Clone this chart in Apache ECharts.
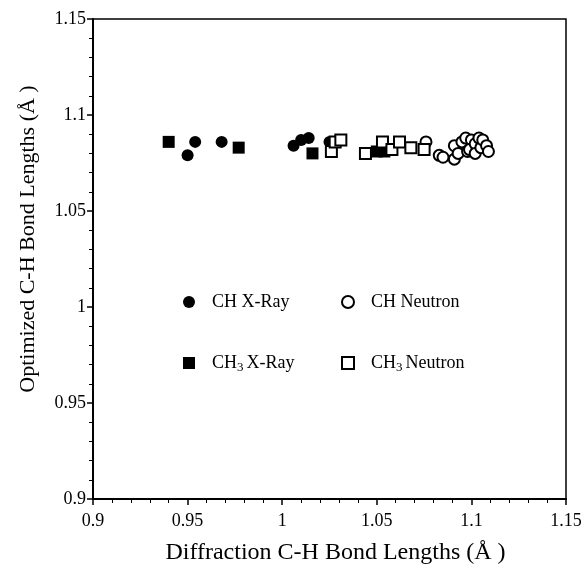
<!DOCTYPE html>
<html>
<head>
<meta charset="utf-8">
<script src="https://cdn.jsdelivr.net/npm/echarts@6/dist/echarts.min.js"></script>
<style>
  html, body { margin: 0; padding: 0; background: #fff; }
  #main { width: 584px; height: 565px; }
</style>
</head>
<body>
<div id="main"></div>
<script>
// values: [diffraction, optimized]
var chXray = [
  [0.950, 1.079], [0.954, 1.086], [0.968, 1.086],
  [1.006, 1.084], [1.010, 1.087], [1.014, 1.088], [1.025, 1.086]
];
var ch3Xray = [
  [0.940, 1.086], [0.977, 1.083], [1.016, 1.080],
  [1.050, 1.081], [1.054, 1.081]
];
var chNeutron = [
  [1.076, 1.086], [1.083, 1.079], [1.085, 1.078],
  [1.091, 1.084], [1.091, 1.077], [1.093, 1.080], [1.095, 1.086],
  [1.097, 1.088], [1.098, 1.081], [1.100, 1.087], [1.099, 1.082],
  [1.102, 1.085], [1.102, 1.080], [1.104, 1.088], [1.105, 1.083],
  [1.106, 1.087], [1.108, 1.084], [1.109, 1.081]
];
var ch3Neutron = [
  [1.026, 1.081], [1.028, 1.086], [1.031, 1.087], [1.044, 1.080],
  [1.053, 1.086], [1.058, 1.082], [1.062, 1.086], [1.068, 1.083],
  [1.075, 1.082]
];
var xTicks = { min: 0.9, max: 1.15, step: 0.05 };
var yTicks = { min: 0.9, max: 1.15, step: 0.05 };

var font = 'Liberation Serif';
var myChart = echarts.init(document.getElementById('main'));

function legendName(name) {
  return name.replace('CH3 ', 'CH{sub|3}');
}
var legendText = {
  fontFamily: font,
  fontSize: 18,
  color: '#000',
  lineHeight: 22,
  padding: [0, 0, 0, 12],
  rich: {
    sub: { fontFamily: font, fontSize: 13, verticalAlign: 'bottom', padding: [9, 3, 0, 0], color: '#000' }
  }
};

function scatter(name, data, symbol, filled) {
  return {
    name: name,
    type: 'scatter',
    data: data,
    symbol: symbol,
    symbolSize: filled ? 12 : 11,
    itemStyle: filled
      ? { color: '#000', opacity: 1 }
      : { color: '#fff', borderColor: '#000', borderWidth: 2, opacity: 1 }
  };
}

var option = {
  animation: false,
  backgroundColor: '#fff',
  grid: {
    left: 93, top: 19, right: 18, bottom: 66,
    outerBoundsMode: 'none',
    show: true, borderColor: '#000', borderWidth: 1.5
  },
  legend: [
    {
      orient: 'vertical', left: 178, top: 286,
      itemWidth: 12, itemHeight: 12, itemGap: 39,
      data: ['CH X-Ray', 'CH3 X-Ray'],
      formatter: legendName, textStyle: legendText
    },
    {
      orient: 'vertical', left: 336, top: 286,
      itemWidth: 12, itemHeight: 12, itemGap: 39,
      data: ['CH Neutron', 'CH3 Neutron'],
      formatter: legendName, textStyle: legendText
    }
  ],
  xAxis: {
    type: 'value',
    min: xTicks.min, max: xTicks.max, interval: xTicks.step,
    name: 'Diffraction C-H Bond Lengths (Å )',
    nameLocation: 'middle', nameGap: 42,
    nameTextStyle: { fontFamily: font, fontSize: 24, color: '#000', padding: [0, 0, 0, 12] },
    axisLine: { lineStyle: { color: '#000', width: 2 } },
    axisTick: { length: 6, lineStyle: { color: '#000', width: 1.5 } },
    minorTick: { show: true, splitNumber: 5, length: 4, lineStyle: { color: '#000', width: 1 } },
    axisLabel: { fontFamily: font, fontSize: 18, color: '#000', margin: 13 },
    splitLine: { show: false }
  },
  yAxis: {
    type: 'value',
    min: yTicks.min, max: yTicks.max, interval: yTicks.step,
    name: 'Optimized C-H Bond Lengths (Å )',
    nameLocation: 'middle', nameGap: 54,
    nameTextStyle: { fontFamily: font, fontSize: 22, color: '#000', padding: [0, 0, 0, 40] },
    axisLine: { lineStyle: { color: '#000', width: 2 } },
    axisTick: { length: 6, lineStyle: { color: '#000', width: 1.5 } },
    minorTick: { show: true, splitNumber: 5, length: 4, lineStyle: { color: '#000', width: 1 } },
    axisLabel: { fontFamily: font, fontSize: 18, color: '#000', margin: 7 },
    splitLine: { show: false }
  },
  series: [
    scatter('CH X-Ray', chXray, 'circle', true),
    scatter('CH3 X-Ray', ch3Xray, 'rect', true),
    scatter('CH Neutron', chNeutron, 'circle', false),
    scatter('CH3 Neutron', ch3Neutron, 'rect', false)
  ]
};
myChart.setOption(option);
</script>
</body>
</html>
